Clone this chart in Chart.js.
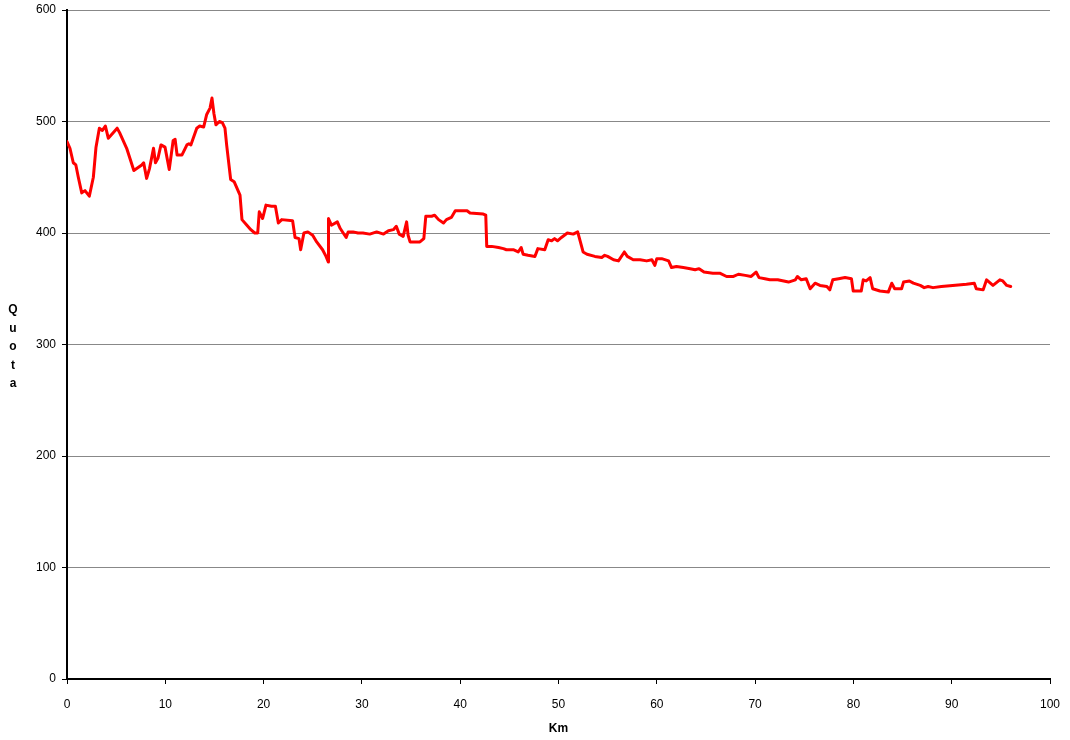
<!DOCTYPE html>
<html>
<head>
<meta charset="utf-8">
<script src="https://cdn.jsdelivr.net/npm/chart.js@4/dist/chart.umd.min.js"></script>
<style>
    html, body { margin: 0; padding: 0; background: #fff; }
    #wrap { width: 1070px; height: 740px; position: relative; }
</style>
</head>
<body>
<div id="wrap"><canvas id="profile-chart" width="1070" height="740"></canvas></div>
<script>
// distanza (km) e quota (m)
const km = [
    0, 0.3, 0.64, 0.9, 1.15, 1.5, 1.83, 2.27, 2.68, 2.95, 3.29, 3.6, 3.9, 4.2, 4.7, 5.1, 5.35,
    6.07, 6.8, 7.6, 7.8, 8.1, 8.4, 8.8, 9.0, 9.25, 9.56, 9.97, 10.4, 10.8, 11.0, 11.2, 11.7,
    12.2, 12.4, 12.6, 13.2, 13.5, 13.9, 14.2, 14.55, 14.75, 14.95, 15.15, 15.5, 15.8, 16.07,
    16.24, 16.65, 17.0, 17.6, 17.8, 18.3, 18.7, 19.1, 19.4, 19.56, 19.9, 20.24, 20.8, 21.2,
    21.5, 21.85, 22.95, 23.2, 23.6, 23.77, 24.1, 24.5, 24.99, 25.4, 26.0, 26.35, 26.58, 26.6,
    26.9, 27.5, 27.8, 28.4, 28.6, 29.1, 29.6, 30.1, 30.8, 31.5, 32.2, 32.7, 33.2, 33.5, 33.8,
    34.2, 34.55, 34.7, 34.9, 35.9, 36.3, 36.5, 37.1, 37.4, 37.8, 38.3, 38.6, 39.1, 39.5, 40.3,
    40.7, 41.0, 42.35, 42.6, 42.7, 43.2, 43.9, 44.4, 44.7, 45.4, 45.9, 46.2, 46.4, 46.9, 47.6,
    47.9, 48.6, 48.95, 49.3, 49.6, 49.9, 50.3, 50.9, 51.5, 51.95, 52.2, 52.5, 52.9, 53.7, 54.4,
    54.7, 55.0, 55.6, 56.1, 56.7, 57.0, 57.6, 58.3, 58.97, 59.5, 59.8, 60.0, 60.5, 61.2, 61.5,
    62.0, 62.7, 63.4, 63.9, 64.3, 64.8, 65.7, 66.4, 67.1, 67.8, 68.3, 69.0, 69.6, 70.1, 70.4,
    71.0, 71.5, 72.3, 73.4, 74.1, 74.3, 74.7, 75.2, 75.6, 76.1, 76.6, 77.3, 77.6, 77.9, 78.5,
    79.15, 79.8, 79.98, 80.8, 81.0, 81.3, 81.7, 81.96, 82.7, 83.55, 83.9, 84.2, 84.9, 85.1,
    85.7, 86.1, 86.8, 87.2, 87.6, 88.1, 88.95, 90.1, 91.5, 92.3, 92.5, 93.2, 93.55, 94.2, 94.9,
    95.2, 95.6, 96.0
];
const quota = [
    482, 476, 463, 461, 450, 436, 438, 433, 450, 477, 494, 492, 496, 485, 490, 494, 490,
    476, 456, 461, 463, 449, 458, 476, 463, 467, 479, 477, 457, 483, 484, 470, 470,
    479, 480, 479, 494, 496, 495, 506, 512, 521, 507, 497, 500, 499, 494,
    479, 448, 446, 434, 412, 407, 403, 400, 400, 419, 413, 425, 424, 424,
    409, 412, 411, 396, 395, 385, 400, 401, 398, 392, 385, 379, 374, 413,
    407, 410, 404, 396, 401, 401, 400, 400, 399, 401, 399, 402, 403, 406, 399,
    397, 410, 398, 392, 392, 395, 415, 415, 416, 412, 409, 412, 414, 420, 420,
    420, 418, 417, 416, 388, 388, 387, 386, 385, 385, 383, 387, 381, 380, 379,
    386, 385, 394, 393, 395, 393, 396, 400, 399, 401, 393, 383, 381, 379, 378,
    380, 379, 376, 375, 383, 379, 376, 376, 375, 376, 371, 377, 377, 375, 369,
    370, 369, 368, 367, 368, 365, 364, 364, 361, 361, 363, 362, 361, 365, 360,
    359, 358, 358, 356, 358, 361, 358, 359, 350, 355, 353, 352, 349, 358, 359,
    360, 359, 348, 348, 358, 357, 360, 350, 348, 347, 355, 350, 350, 356,
    357, 355, 353, 351, 352, 351, 352, 353, 354, 355, 350, 349, 358, 353, 358,
    357, 353, 352
];
const xTicks = [0, 10, 20, 30, 40, 50, 60, 70, 80, 90, 100];
const yTicks = [0, 100, 200, 300, 400, 500, 600];
const xTitle = 'Km';
const yTitle = 'Quota';

const points = km.map((k, i) => ({ x: k, y: quota[i] }));

// titolo asse y con lettere in colonna
const stackedTitle = {
    id: 'stackedTitle',
    afterDraw(chart) {
        const ctx = chart.ctx;
        ctx.save();
        ctx.font = 'bold 12px "Liberation Sans", Arial, sans-serif';
        ctx.fillStyle = '#000';
        ctx.textAlign = 'center';
        ctx.textBaseline = 'middle';
        const letters = yTitle.split('');
        const startY = 310;
        letters.forEach((ch, i) => ctx.fillText(ch, 13, startY + i * 18.5));
        ctx.restore();
    }
};

Chart.defaults.font.family = '"Liberation Sans", Arial, sans-serif';
Chart.defaults.font.size = 12;
Chart.defaults.color = '#000';

const ctx = document.getElementById('profile-chart').getContext('2d');
new Chart(ctx, {
    type: 'line',
    data: {
        datasets: [{
            data: points,
            borderColor: '#ff0000',
            borderWidth: 3,
            borderJoinStyle: 'round',
            borderCapStyle: 'round',
            pointRadius: 0,
            fill: false,
            tension: 0
        }]
    },
    options: {
        responsive: false,
        animation: false,
        layout: { padding: { top: 10, right: 20, left: 0, bottom: 0 } },
        plugins: {
            legend: { display: false },
            tooltip: { enabled: false }
        },
        scales: {
            x: {
                type: 'linear',
                min: 0,
                max: 100,
                afterBuildTicks: s => { s.ticks = xTicks.map(v => ({ value: v })); },
                afterFit: s => { s.height = 61; s.paddingLeft = 0; s.paddingRight = 0; },
                border: { color: '#000', width: 2 },
                grid: { drawOnChartArea: false, tickLength: 5, tickColor: '#000', tickWidth: 1 },
                ticks: { padding: 13, maxRotation: 0 },
                title: { display: true, text: xTitle, font: { weight: 'bold', size: 12 }, padding: { top: 8, bottom: 4 } }
            },
            y: {
                min: 0,
                max: 600,
                afterBuildTicks: s => { s.ticks = yTicks.map(v => ({ value: v })); },
                afterFit: s => { s.width = 67; s.paddingTop = 0; s.paddingBottom = 0; },
                border: { color: '#000', width: 2 },
                grid: { color: '#888', lineWidth: 1, tickLength: 5, tickColor: '#000' },
                ticks: { padding: 6 }
            }
        }
    },
    plugins: [stackedTitle]
});
</script>
</body>
</html>
